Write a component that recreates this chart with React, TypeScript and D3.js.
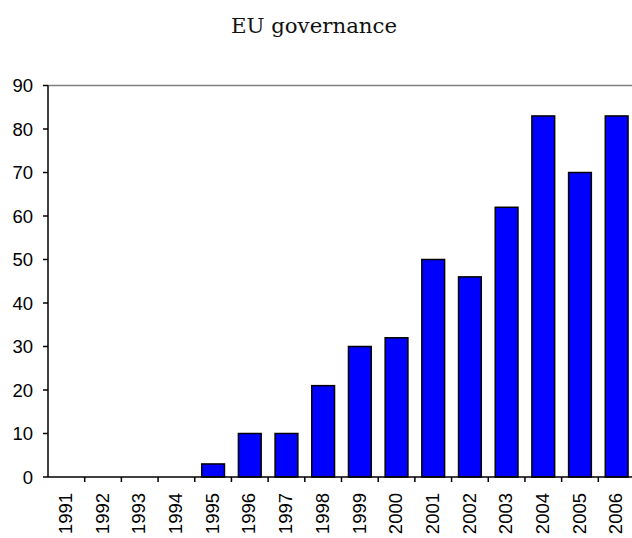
import React from "react";
import * as d3 from "d3";

const years = ["1991","1992","1993","1994","1995","1996","1997","1998","1999","2000","2001","2002","2003","2004","2005","2006"];
const values = [0,0,0,0,3,10,10,21,30,32,50,46,62,83,70,83];
const yTicks = [0,10,20,30,40,50,60,70,80,90];
const title = "EU governance";

export default function App() {
  const W = 632, H = 538;
  const left = 48, right = 635, top = 85.5, bottom = 477;
  const x = d3.scaleBand<string>().domain(years).range([left, right]).paddingInner(0.38).paddingOuter(0.19);
  const y = d3.scaleLinear().domain([0, 90]).range([bottom, top]);
  const step = x.step();
  const font = "'Liberation Sans', Arial, sans-serif";
  return (
    <svg width={W} height={H} style={{ position: "absolute", left: 0, top: 0 }}>
      <rect x={0} y={0} width={W} height={H} fill="#fff" />
      <text x={314} y={32.5} textAnchor="middle" fontFamily="'DejaVu Serif', serif" fontSize={21.3} fill="#111">{title}</text>
      <line x1={left} x2={right} y1={top} y2={top} stroke="#808080" strokeWidth={1.5} />
      {years.map((yr, i) => (
        <rect key={yr} x={x(yr)!} y={y(values[i])} width={x.bandwidth()} height={bottom - y(values[i])}
          fill="#0000FF" stroke="#000" strokeWidth={1.5} />
      ))}
      <line x1={left} x2={left} y1={top} y2={bottom} stroke="#000" strokeWidth={1.5} />
      <line x1={left} x2={right} y1={bottom} y2={bottom} stroke="#000" strokeWidth={1.5} />
      {yTicks.map(t => (
        <g key={t}>
          <line x1={left - 5} x2={left} y1={y(t)} y2={y(t)} stroke="#000" strokeWidth={1.5} />
          <text x={33} y={y(t)} dy="0.36em" textAnchor="end" fontFamily={font} fontSize={18.5} fill="#000">{t}</text>
        </g>
      ))}
      {years.map((yr, i) => (
        <line key={"t" + yr} x1={left + (i + 1) * step} x2={left + (i + 1) * step} y1={bottom} y2={bottom + 5} stroke="#000" strokeWidth={1.5} />
      ))}
      {years.map(yr => {
        const cx = x(yr)! + x.bandwidth() / 2;
        return (
          <text key={"l" + yr} transform={`translate(${cx - 1},${493}) rotate(-90)`} dy="0.36em" textAnchor="end"
            fontFamily={font} fontSize={18.5} fill="#000">{yr}</text>
        );
      })}
    </svg>
  );
}
